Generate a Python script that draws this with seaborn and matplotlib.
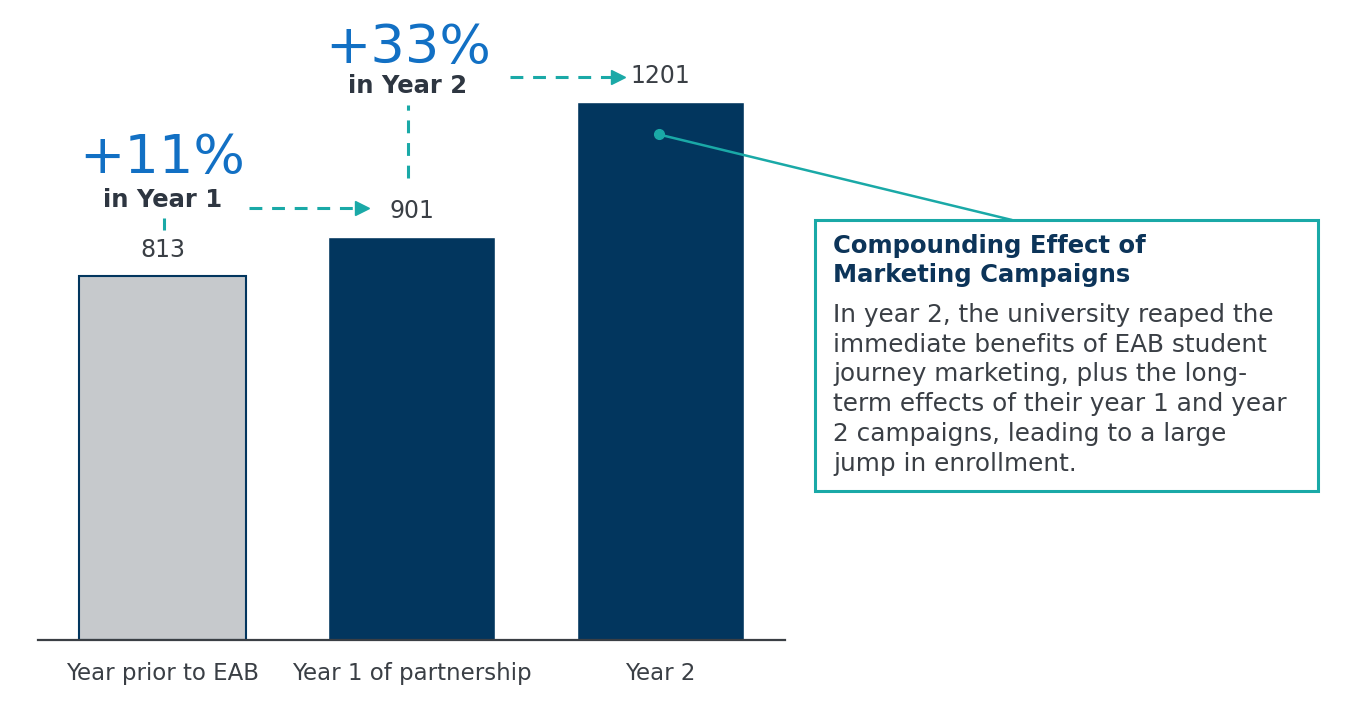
import matplotlib
matplotlib.use("Agg")
import matplotlib.pyplot as plt
import seaborn as sns
from matplotlib.patches import Rectangle, ConnectionPatch
from matplotlib.transforms import offset_copy

# Data
categories = ["Year prior to EAB", "Year 1 of partnership", "Year 2"]
enrollment = [813, 901, 1201]
growth_pct = ["+11%", "+33%"]
growth_when = ["in Year 1", "in Year 2"]
callout_title = "Compounding Effect of\nMarketing Campaigns"
callout_body = ("In year 2, the university reaped the\n"
                "immediate benefits of EAB student\n"
                "journey marketing, plus the long-\n"
                "term effects of their year 1 and year\n"
                "2 campaigns, leading to a large\n"
                "jump in enrollment.")

NAVY = "#02365e"
GREY_BAR = "#c6c9cc"
TEAL = "#1aa9a7"
BLUE = "#1270c4"
TEXT = "#3a3f45"

sns.set_theme(style="white")
plt.rcParams["font.family"] = ["DejaVu Sans"]

W, H = 1363, 703
YMAX = 1430
PX = YMAX / 640  # data units per pixel

fig = plt.figure(figsize=(W / 100, H / 100), dpi=100)
ax = fig.add_axes([38 / W, 1 - 640 / H, (785 - 38) / W, 640 / H])

sns.barplot(x=categories, y=enrollment, hue=categories,
            palette=[GREY_BAR, NAVY, NAVY], saturation=1, width=0.67,
            legend=False, ax=ax)
ax.patches[0].set_edgecolor(NAVY)
ax.patches[0].set_linewidth(1.5)

ax.set_xlim(-0.5, 2.5)
ax.set_ylim(0, YMAX)
ax.set_yticks([])
ax.set_xlabel("")
ax.set_ylabel("")
for side in ["top", "left", "right"]:
    ax.spines[side].set_visible(False)
ax.spines["bottom"].set_color("#3a3f44")
ax.spines["bottom"].set_linewidth(1.6)
ax.tick_params(axis="x", length=0, pad=16, labelsize=16.5, labelcolor=TEXT)
ax.patch.set_alpha(0)


def above(px):
    # shift a data point up by some pixels
    return offset_copy(ax.transData, fig=fig, x=0, y=px, units="dots")


# value labels
for i, v in enumerate(enrollment):
    ax.text(i, v, str(v), transform=above(26), ha="center", va="center",
            fontsize=17, color=TEXT)

dash = dict(color=TEAL, lw=2.2, linestyle=(0, (4.2, 3.2)), solid_capstyle="butt")

# growth year 1, over the first bar
ax.text(0, enrollment[0], growth_pct[0], transform=above(118), ha="center",
        va="center", fontsize=39, color=BLUE)
ax.text(0, enrollment[0], growth_when[0], transform=above(76), ha="center",
        va="center", fontsize=17.5, fontweight="bold", color="#2e3641")
ax.plot([0.005, 0.005], [enrollment[0], enrollment[0] + 12 * PX],
        transform=above(46), **dash)

# arrow into year 1 label
ax.plot([0.346, 0.80], [enrollment[1]] * 2, transform=above(29), **dash)
ax.plot([0.80], [enrollment[1]], marker=">", markersize=10, color=TEAL,
        transform=above(29), lw=0)

# growth year 2, over the second bar
ax.text(0.986, enrollment[1], growth_pct[1], transform=above(189), ha="center",
        va="center", fontsize=39, color=BLUE)
ax.text(0.986, enrollment[1], growth_when[1], transform=above(151), ha="center",
        va="center", fontsize=17.5, fontweight="bold", color="#2e3641")
ax.plot([0.986, 0.986], [enrollment[1], enrollment[1] + 73 * PX],
        transform=above(59), **dash)

# arrow into year 2 label
ax.plot([1.394, 1.83], [enrollment[2]] * 2, transform=above(25), **dash)
ax.plot([1.83], [enrollment[2]], marker=">", markersize=10, color=TEAL,
        transform=above(25), lw=0)

# callout
ax.plot([1.994], [enrollment[2]], marker="o", markersize=7, color=TEAL,
        transform=above(-32), lw=0)
con = ConnectionPatch(xyA=(1.994, enrollment[2]), coordsA=above(-32),
                      xyB=(1012 / W, 1 - 220 / H), coordsB=fig.transFigure,
                      color=TEAL, lw=1.8)
fig.add_artist(con)

box = Rectangle((815 / W, 1 - 491 / H), 503 / W, 271 / H,
                transform=fig.transFigure, facecolor="white",
                edgecolor=TEAL, lw=2.2, zorder=2)
fig.add_artist(box)
fig.text(833 / W, 1 - 234 / H, callout_title, ha="left", va="top",
         fontsize=17.5, fontweight="bold", color="#0c3459", linespacing=1.25,
         zorder=3)
fig.text(833 / W, 1 - 303 / H, callout_body, ha="left", va="top",
         fontsize=17.8, color=TEXT, linespacing=1.3, zorder=3)

fig.savefig("out.png", dpi=100)
